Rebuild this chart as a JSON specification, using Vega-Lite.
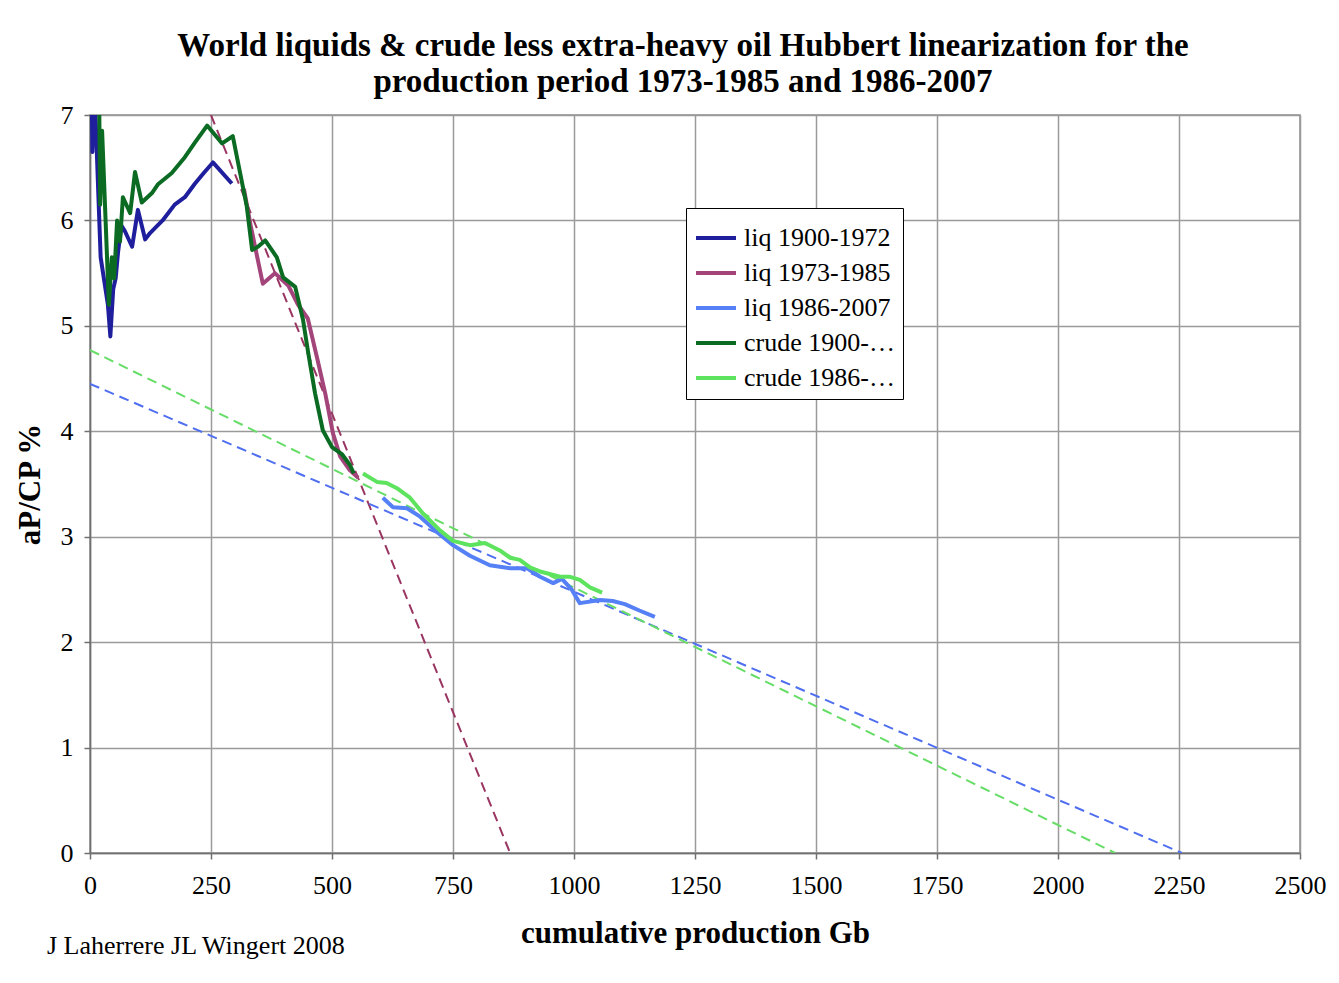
{
  "$schema": "https://vega.github.io/schema/vega-lite/v6.json",
  "width": 1210,
  "height": 738,
  "autosize": {"type": "none"},
  "padding": {"left": 90, "top": 115, "right": 39, "bottom": 130},
  "background": "white",
  "config": {
    "font": "Liberation Serif",
    "view": {"stroke": "#8a8a8a", "strokeWidth": 1.5},
    "axis": {
      "labelFont": "Liberation Serif",
      "labelFontSize": 26,
      "labelColor": "black",
      "titleFont": "Liberation Serif",
      "titleFontSize": 31,
      "titleFontWeight": "bold",
      "titleColor": "black",
      "gridColor": "#9a9a9a",
      "gridWidth": 1.5,
      "domainColor": "#707070",
      "domainWidth": 1.5,
      "tickColor": "#707070",
      "tickWidth": 1.5,
      "tickSize": 6
    }
  },
  "title": {
    "text": ["World liquids & crude less extra-heavy oil Hubbert linearization for the", "production period 1973-1985 and 1986-2007"],
    "font": "Liberation Serif",
    "fontSize": 33,
    "fontWeight": "bold",
    "color": "black",
    "lineHeight": 36,
    "anchor": "middle",
    "dx": -12,
    "offset": 3
  },
  "layer": [
    {
      "data": {"values": [{"g": 250, "v": 7.0}, {"g": 868, "v": 0}]},
      "mark": {"type": "line", "strokeWidth": 2, "strokeDash": [10, 6], "clip": true, "color": "#9a3562"},
      "encoding": {
        "x": {"field": "g", "type": "quantitative"},
        "y": {"field": "v", "type": "quantitative"}
      }
    },
    {
      "data": {"values": [{"g": 0, "v": 4.45}, {"g": 2256, "v": 0}]},
      "mark": {"type": "line", "strokeWidth": 2, "strokeDash": [10, 6], "clip": true, "color": "#4f6ef0"},
      "encoding": {
        "x": {"field": "g", "type": "quantitative"},
        "y": {"field": "v", "type": "quantitative"}
      }
    },
    {
      "data": {"values": [{"g": 0, "v": 4.77}, {"g": 2118, "v": 0}]},
      "mark": {"type": "line", "strokeWidth": 2, "strokeDash": [10, 6], "clip": true, "color": "#66dd66"},
      "encoding": {
        "x": {"field": "g", "type": "quantitative"},
        "y": {"field": "v", "type": "quantitative"}
      }
    },
    {
      "data": {"values": [
        {"series": "liq 1900-1972", "g": 3, "v": 7.4},
        {"series": "liq 1900-1972", "g": 5, "v": 6.65},
        {"series": "liq 1900-1972", "g": 9, "v": 7.3},
        {"series": "liq 1900-1972", "g": 18, "v": 6.15},
        {"series": "liq 1900-1972", "g": 22, "v": 5.65},
        {"series": "liq 1900-1972", "g": 37, "v": 5.2},
        {"series": "liq 1900-1972", "g": 42, "v": 4.9},
        {"series": "liq 1900-1972", "g": 48, "v": 5.35},
        {"series": "liq 1900-1972", "g": 53, "v": 5.45},
        {"series": "liq 1900-1972", "g": 58, "v": 5.7},
        {"series": "liq 1900-1972", "g": 65, "v": 5.95},
        {"series": "liq 1900-1972", "g": 72, "v": 5.9},
        {"series": "liq 1900-1972", "g": 87, "v": 5.75},
        {"series": "liq 1900-1972", "g": 99, "v": 6.1},
        {"series": "liq 1900-1972", "g": 114, "v": 5.82},
        {"series": "liq 1900-1972", "g": 124, "v": 5.88},
        {"series": "liq 1900-1972", "g": 150, "v": 6.0},
        {"series": "liq 1900-1972", "g": 175, "v": 6.15},
        {"series": "liq 1900-1972", "g": 196, "v": 6.22},
        {"series": "liq 1900-1972", "g": 217, "v": 6.35},
        {"series": "liq 1900-1972", "g": 235, "v": 6.45},
        {"series": "liq 1900-1972", "g": 254, "v": 6.55},
        {"series": "liq 1900-1972", "g": 293, "v": 6.35},
        {"series": "liq 1973-1985", "g": 318, "v": 6.3},
        {"series": "liq 1973-1985", "g": 332, "v": 5.95},
        {"series": "liq 1973-1985", "g": 357, "v": 5.4},
        {"series": "liq 1973-1985", "g": 382, "v": 5.5},
        {"series": "liq 1973-1985", "g": 410, "v": 5.38},
        {"series": "liq 1973-1985", "g": 430, "v": 5.2},
        {"series": "liq 1973-1985", "g": 450, "v": 5.07},
        {"series": "liq 1973-1985", "g": 469, "v": 4.7},
        {"series": "liq 1973-1985", "g": 486, "v": 4.36},
        {"series": "liq 1973-1985", "g": 502, "v": 3.98},
        {"series": "liq 1973-1985", "g": 517, "v": 3.76},
        {"series": "liq 1973-1985", "g": 537, "v": 3.63},
        {"series": "liq 1973-1985", "g": 554, "v": 3.56},
        {"series": "liq 1986-2007", "g": 605, "v": 3.37},
        {"series": "liq 1986-2007", "g": 626, "v": 3.28},
        {"series": "liq 1986-2007", "g": 655, "v": 3.27},
        {"series": "liq 1986-2007", "g": 682, "v": 3.19},
        {"series": "liq 1986-2007", "g": 713, "v": 3.06},
        {"series": "liq 1986-2007", "g": 750, "v": 2.92},
        {"series": "liq 1986-2007", "g": 785, "v": 2.82},
        {"series": "liq 1986-2007", "g": 826, "v": 2.73},
        {"series": "liq 1986-2007", "g": 868, "v": 2.7},
        {"series": "liq 1986-2007", "g": 903, "v": 2.7},
        {"series": "liq 1986-2007", "g": 930, "v": 2.62},
        {"series": "liq 1986-2007", "g": 957, "v": 2.56},
        {"series": "liq 1986-2007", "g": 975, "v": 2.6},
        {"series": "liq 1986-2007", "g": 995, "v": 2.5},
        {"series": "liq 1986-2007", "g": 1012, "v": 2.37},
        {"series": "liq 1986-2007", "g": 1054, "v": 2.4},
        {"series": "liq 1986-2007", "g": 1080, "v": 2.39},
        {"series": "liq 1986-2007", "g": 1105, "v": 2.36},
        {"series": "liq 1986-2007", "g": 1135, "v": 2.3},
        {"series": "liq 1986-2007", "g": 1167, "v": 2.24},
        {"series": "crude 1900-1985", "g": 18, "v": 7.6},
        {"series": "crude 1900-1985", "g": 21, "v": 6.15},
        {"series": "crude 1900-1985", "g": 25, "v": 6.85},
        {"series": "crude 1900-1985", "g": 39, "v": 5.2},
        {"series": "crude 1900-1985", "g": 45, "v": 5.65},
        {"series": "crude 1900-1985", "g": 50, "v": 5.45},
        {"series": "crude 1900-1985", "g": 56, "v": 6.0},
        {"series": "crude 1900-1985", "g": 62, "v": 5.8},
        {"series": "crude 1900-1985", "g": 68, "v": 6.22},
        {"series": "crude 1900-1985", "g": 83, "v": 6.07},
        {"series": "crude 1900-1985", "g": 93, "v": 6.46},
        {"series": "crude 1900-1985", "g": 107, "v": 6.17},
        {"series": "crude 1900-1985", "g": 128, "v": 6.26},
        {"series": "crude 1900-1985", "g": 140, "v": 6.34},
        {"series": "crude 1900-1985", "g": 169, "v": 6.45},
        {"series": "crude 1900-1985", "g": 196, "v": 6.6},
        {"series": "crude 1900-1985", "g": 217, "v": 6.74},
        {"series": "crude 1900-1985", "g": 242, "v": 6.9},
        {"series": "crude 1900-1985", "g": 273, "v": 6.73},
        {"series": "crude 1900-1985", "g": 295, "v": 6.8},
        {"series": "crude 1900-1985", "g": 324, "v": 6.13},
        {"series": "crude 1900-1985", "g": 335, "v": 5.72},
        {"series": "crude 1900-1985", "g": 347, "v": 5.75},
        {"series": "crude 1900-1985", "g": 362, "v": 5.81},
        {"series": "crude 1900-1985", "g": 386, "v": 5.65},
        {"series": "crude 1900-1985", "g": 399, "v": 5.46},
        {"series": "crude 1900-1985", "g": 424, "v": 5.37},
        {"series": "crude 1900-1985", "g": 440, "v": 5.06},
        {"series": "crude 1900-1985", "g": 451, "v": 4.74},
        {"series": "crude 1900-1985", "g": 465, "v": 4.36},
        {"series": "crude 1900-1985", "g": 481, "v": 4.01},
        {"series": "crude 1900-1985", "g": 500, "v": 3.85},
        {"series": "crude 1900-1985", "g": 521, "v": 3.78},
        {"series": "crude 1900-1985", "g": 537, "v": 3.68},
        {"series": "crude 1900-1985", "g": 545, "v": 3.6},
        {"series": "crude 1986-2007", "g": 564, "v": 3.6},
        {"series": "crude 1986-2007", "g": 593, "v": 3.52},
        {"series": "crude 1986-2007", "g": 613, "v": 3.51},
        {"series": "crude 1986-2007", "g": 634, "v": 3.46},
        {"series": "crude 1986-2007", "g": 661, "v": 3.37},
        {"series": "crude 1986-2007", "g": 688, "v": 3.22},
        {"series": "crude 1986-2007", "g": 723, "v": 3.06},
        {"series": "crude 1986-2007", "g": 750, "v": 2.96},
        {"series": "crude 1986-2007", "g": 785, "v": 2.92},
        {"series": "crude 1986-2007", "g": 816, "v": 2.94},
        {"series": "crude 1986-2007", "g": 847, "v": 2.87},
        {"series": "crude 1986-2007", "g": 868, "v": 2.8},
        {"series": "crude 1986-2007", "g": 888, "v": 2.78},
        {"series": "crude 1986-2007", "g": 909, "v": 2.71},
        {"series": "crude 1986-2007", "g": 930, "v": 2.67},
        {"series": "crude 1986-2007", "g": 971, "v": 2.62},
        {"series": "crude 1986-2007", "g": 992, "v": 2.62},
        {"series": "crude 1986-2007", "g": 1012, "v": 2.59},
        {"series": "crude 1986-2007", "g": 1033, "v": 2.52},
        {"series": "crude 1986-2007", "g": 1058, "v": 2.47}
      ]},
      "mark": {"type": "line", "strokeWidth": 4, "clip": true, "strokeJoin": "round"},
      "encoding": {
        "x": {
          "field": "g",
          "type": "quantitative",
          "scale": {"domain": [0, 2500], "nice": false},
          "axis": {
            "values": [0, 250, 500, 750, 1000, 1250, 1500, 1750, 2000, 2250, 2500],
            "format": "d",
            "title": "cumulative production Gb",
            "labelPadding": 13,
            "titlePadding": 20,
            "labelFlush": false
          }
        },
        "y": {
          "field": "v",
          "type": "quantitative",
          "scale": {"domain": [0, 7], "nice": false},
          "axis": {
            "values": [0, 1, 2, 3, 4, 5, 6, 7],
            "format": "d",
            "title": "aP/CP %",
            "labelPadding": 11,
            "titlePadding": 14
          }
        },
        "color": {
          "field": "series",
          "type": "nominal",
          "scale": {
            "domain": ["liq 1900-1972", "liq 1973-1985", "liq 1986-2007", "crude 1900-1985", "crude 1986-2007"],
            "range": ["#1f1f9e", "#a3457a", "#5680f5", "#0b6b22", "#5ee35e"]
          },
          "legend": {
            "title": null,
            "orient": "none",
            "legendX": 596,
            "legendY": 93,
            "symbolType": "stroke",
            "symbolSize": 1600,
            "symbolStrokeWidth": 4,
            "labelFont": "Liberation Serif",
            "labelFontSize": 26,
            "labelColor": "black",
            "labelOffset": 6,
            "rowPadding": 0,
            "padding": 8,
            "strokeColor": "black",
            "fillColor": "white"
          }
        }
      }
    },
    {
      "data": {"values": [{"note": "J Laherrere JL Wingert 2008"}]},
      "mark": {"type": "text", "align": "left", "baseline": "middle", "fontSize": 26, "font": "Liberation Serif", "color": "black", "clip": false},
      "encoding": {
        "x": {"datum": -89},
        "y": {"datum": -0.88},
        "text": {"field": "note"}
      }
    }
  ]
}
